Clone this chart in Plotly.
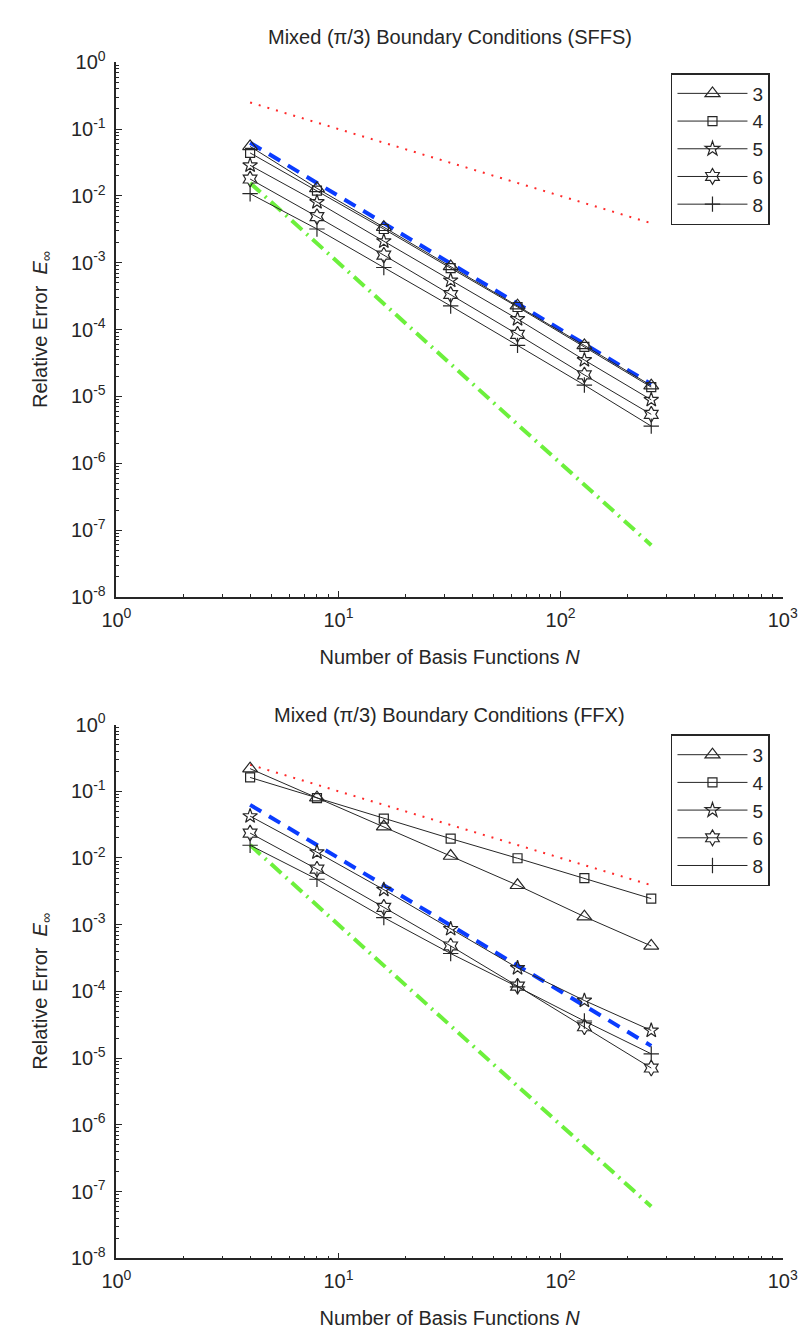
import plotly.graph_objects as go

N = [4, 8, 16, 32, 64, 128, 256]
series_names = ["3", "4", "5", "6", "8"]

# Top panel (SFFS)
sffs_3 = [0.055, 0.0130, 0.0034, 0.00088, 0.000228, 5.8e-5, 1.45e-5]
sffs_4 = [0.044, 0.0120, 0.0032, 0.00083, 0.000218, 5.5e-5, 1.38e-5]
sffs_5 = [0.0287, 0.0081, 0.0021, 0.000544, 0.000144, 3.5e-5, 8.9e-6]
sffs_6 = [0.0179, 0.0049, 0.0013, 0.000335, 8.5e-5, 2.1e-5, 5.4e-6]
sffs_8 = [0.0108, 0.0032, 0.00085, 0.000226, 5.8e-5, 1.48e-5, 3.6e-6]

# Bottom panel (FFX)
ffx_3 = [0.218, 0.080, 0.0296, 0.0107, 0.0039, 0.00132, 0.00048]
ffx_4 = [0.161, 0.079, 0.039, 0.0195, 0.0099, 0.0050, 0.00246]
ffx_5 = [0.0424, 0.0122, 0.00335, 0.000865, 0.000225, 7.3e-5, 2.6e-5]
ffx_6 = [0.0236, 0.0068, 0.00182, 0.00048, 0.00012, 2.95e-5, 7.1e-6]
ffx_8 = [0.0155, 0.0048, 0.00128, 0.00037, 0.000117, 3.6e-5, 1.16e-5]

# Reference slopes N^-1, N^-2, N^-3
ref_order1 = [0.25, 0.125, 0.0625, 0.03125, 0.015625, 0.0078125, 0.00390625]
ref_order2 = [0.0625, 0.015625, 0.00390625, 0.0009765625, 0.000244140625,
              6.103515625e-05, 1.52587890625e-05]
ref_order3 = [0.015625, 0.001953125, 0.000244140625, 3.0517578125e-05,
              3.814697265625e-06, 4.76837158203125e-07, 5.9604644775390625e-08]

x_tickvals = [1, 10, 100, 1000]
x_ticktext = ["10<sup>0</sup>", "10<sup>1</sup>", "10<sup>2</sup>", "10<sup>3</sup>"]
y_tickvals = [1e-8, 1e-7, 1e-6, 1e-5, 1e-4, 1e-3, 1e-2, 1e-1, 1]
y_ticktext = ["10<sup>-8</sup>", "10<sup>-7</sup>", "10<sup>-6</sup>", "10<sup>-5</sup>",
              "10<sup>-4</sup>", "10<sup>-3</sup>", "10<sup>-2</sup>", "10<sup>-1</sup>",
              "10<sup>0</sup>"]

titles = ["Mixed (\u03c0/3) Boundary Conditions (SFFS)",
          "Mixed (\u03c0/3) Boundary Conditions (FFX)"]

INK = "#262626"
FONT = "Liberation Sans, Arial, sans-serif"
symbols = ["triangle-up-open", "square-open", "star-open", "hexagram-open", "cross-thin-open"]
sizes = [13, 9, 11, 12, 11]

W, H = 807, 1329
fig = go.Figure()

panels = [
    ([sffs_3, sffs_4, sffs_5, sffs_6, sffs_8], "x", "y", "legend"),
    ([ffx_3, ffx_4, ffx_5, ffx_6, ffx_8], "x2", "y2", "legend2"),
]

for data, xa, ya, lg in panels:
    fig.add_trace(go.Scatter(x=N, y=ref_order1, mode="lines", xaxis=xa, yaxis=ya,
                             line=dict(color="#ff2a2a", width=2, dash="2px,7px"),
                             showlegend=False, hoverinfo="skip"))
    fig.add_trace(go.Scatter(x=N, y=ref_order2, mode="lines", xaxis=xa, yaxis=ya,
                             line=dict(color="#0a3cff", width=4, dash="13px,9px"),
                             showlegend=False, hoverinfo="skip"))
    fig.add_trace(go.Scatter(x=N, y=ref_order3, mode="lines", xaxis=xa, yaxis=ya,
                             line=dict(color="#6cf03c", width=4, dash="14px,6px,2px,6px"),
                             showlegend=False, hoverinfo="skip"))
    for name, vals, sym, sz in zip(series_names, data, symbols, sizes):
        fig.add_trace(go.Scatter(x=N, y=vals, mode="lines+markers", name=name,
                                 xaxis=xa, yaxis=ya, legend=lg,
                                 line=dict(color=INK, width=1),
                                 marker=dict(symbol=sym, size=sz, color=INK,
                                             line=dict(color=INK, width=1.2))))

def px_x(p):
    return p / W

def px_y(p):
    return 1 - p / H

xdom = [px_x(97), px_x(789)]
top_dom = [px_y(586), px_y(41)]
bot_dom = [px_y(1260), px_y(716)]

def xaxis_style(anchor):
    return dict(type="log", range=[0, 3], domain=xdom, anchor=anchor,
                tickmode="array", tickvals=x_tickvals, ticktext=x_ticktext,
                ticks="inside", ticklen=6, tickwidth=1, tickcolor=INK,
                minor=dict(ticks="inside", ticklen=3, tickcolor=INK, dtick="D1", showgrid=False),
                showline=True, linecolor=INK, linewidth=1.5, mirror=False,
                showgrid=False, zeroline=False,
                tickfont=dict(family=FONT, size=20, color=INK),
                ticklabelstandoff=4,
                title=dict(text="Number of Basis Functions <i>N</i>",
                           font=dict(family=FONT, size=20, color=INK), standoff=20))

def yaxis_style(anchor, dom):
    return dict(type="log", range=[-8, 0], domain=dom, anchor=anchor,
                tickmode="array", tickvals=y_tickvals, ticktext=y_ticktext,
                ticks="inside", ticklen=6, tickwidth=1, tickcolor=INK,
                minor=dict(ticks="inside", ticklen=3, tickcolor=INK, dtick="D1", showgrid=False),
                showline=True, linecolor=INK, linewidth=1.5, mirror=False,
                showgrid=False, zeroline=False,
                tickfont=dict(family=FONT, size=20, color=INK),
                ticklabelstandoff=5,
                title=dict(text="Relative Error  <i>E</i><sub>\u221e</sub>",
                           font=dict(family=FONT, size=20, color=INK), standoff=18))

legend_common = dict(xanchor="left", yanchor="top", bgcolor="white",
                     bordercolor=INK, borderwidth=1.5,
                     font=dict(family=FONT, size=19, color=INK),
                     itemwidth=70, tracegroupgap=0)

fig.update_layout(
    width=W, height=H,
    margin=dict(l=0, r=0, t=0, b=0),
    paper_bgcolor="white", plot_bgcolor="white",
    xaxis=xaxis_style("y"), yaxis=yaxis_style("x", top_dom),
    xaxis2=xaxis_style("y2"), yaxis2=yaxis_style("x2", bot_dom),
    legend=dict(x=px_x(673), y=px_y(52), **legend_common),
    legend2=dict(x=px_x(673), y=px_y(726), **legend_common),
    annotations=[
        dict(text=titles[0], x=px_x(443), y=px_y(15), xref="paper", yref="paper",
             showarrow=False, xanchor="center", yanchor="middle",
             font=dict(family=FONT, size=20, color=INK)),
        dict(text=titles[1], x=px_x(443), y=px_y(706), xref="paper", yref="paper",
             showarrow=False, xanchor="center", yanchor="middle",
             font=dict(family=FONT, size=20, color=INK)),
    ],
)

fig.write_html("out.html")
